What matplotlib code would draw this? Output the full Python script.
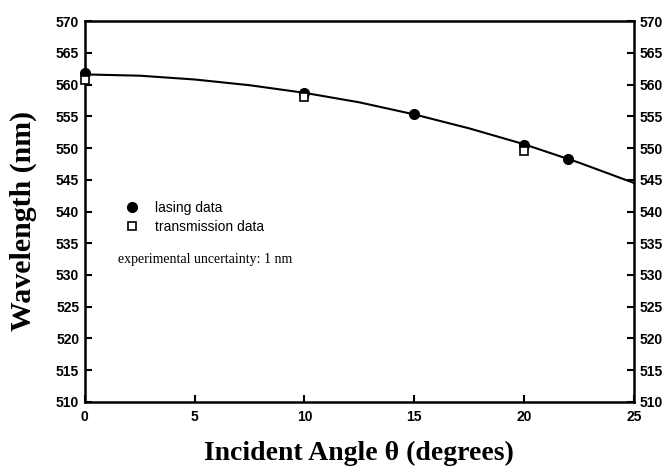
import numpy as np
import matplotlib
matplotlib.use('Agg')
import matplotlib.pyplot as plt

# measured points
lasing_angle = [0, 10, 15, 20, 22]
lasing_wl = [561.8, 558.7, 555.3, 550.5, 548.3]
trans_angle = [0, 10, 20]
trans_wl = [560.7, 558.0, 549.5]

# fitted curve
fit_angle = [0, 2.5, 5, 7.5, 10, 12.5, 15, 17.5, 20, 22.5, 25]
fit_wl = [561.6, 561.4, 560.8, 559.9, 558.7, 557.2, 555.3, 553.1, 550.6, 547.7, 544.5]

xticks = [0, 5, 10, 15, 20, 25]
yticks = list(range(510, 571, 5))

fig = plt.figure(figsize=(6.68, 4.69), dpi=100)
ax = fig.add_axes([0.127, 0.143, 0.822, 0.812])

ax.plot(fit_angle, fit_wl, color='black', linewidth=1.5, zorder=2)
ax.plot(lasing_angle, lasing_wl, 'o', color='black', markersize=7, zorder=3,
        clip_on=False, label='lasing data')
ax.plot(trans_angle, trans_wl, 's', markerfacecolor='white', markeredgecolor='black',
        markersize=6, markeredgewidth=1.2, zorder=4, clip_on=False, label='transmission data')

ax.set_xlim(0, 25)
ax.set_ylim(510, 570)
ax.set_xticks(xticks)
ax.set_yticks(yticks)

for s in ax.spines.values():
    s.set_linewidth(1.8)

ax.tick_params(axis='both', direction='in', length=5, width=1.5, top=False,
               right=True, labelright=True, pad=4)
for lab in ax.get_xticklabels() + ax.get_yticklabels():
    lab.set_fontfamily('Liberation Sans')
    lab.set_fontweight('bold')
    lab.set_fontsize(10)
ax.xaxis.set_tick_params(pad=6)

ax.set_xlabel('Incident Angle θ (degrees)', family='Liberation Serif',
              fontweight='bold', fontsize=20, labelpad=12)
ax.set_ylabel('Wavelength (nm)', family='Liberation Serif',
              fontweight='bold', fontsize=21.5)
ax.yaxis.set_label_coords(-0.087, 0.475)

leg = ax.legend(loc='upper left', bbox_to_anchor=(0.05, 0.56), frameon=False,
                prop={'family': 'Liberation Sans', 'size': 10},
                handletextpad=1.2, labelspacing=0.35, handlelength=1.0)
ax.text(0.06, 0.365, 'experimental uncertainty: 1 nm', transform=ax.transAxes,
        family='Liberation Serif', fontsize=10)

fig.savefig('out.png', dpi=100)
